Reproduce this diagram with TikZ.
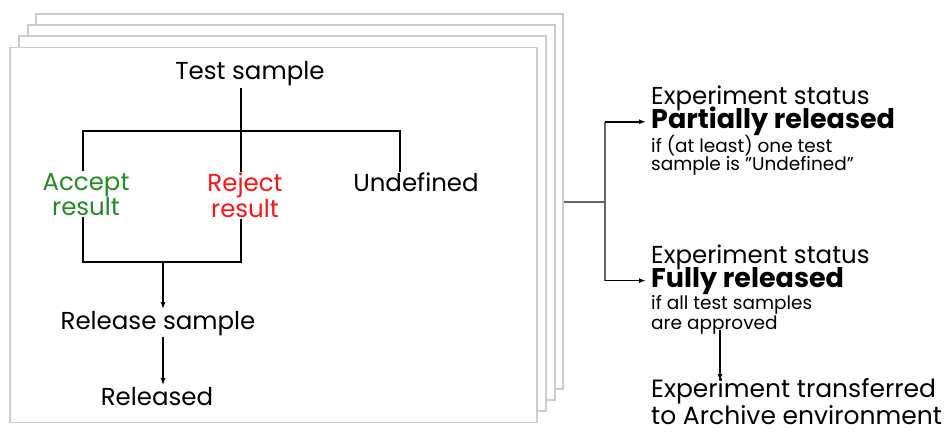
\documentclass[tikz,border=0pt]{standalone}
\usepackage{fontspec}
\setmainfont{Poppins}
\usetikzlibrary{positioning,arrows.meta}

\definecolor{okgreen}{RGB}{34,140,34}
\definecolor{nored}{RGB}{250,20,20}

\begin{document}
\begin{tikzpicture}[x=1pt,y=-1pt]
		\tikzstyle{every node}=[font=\fontsize{24.5pt}{25pt}\selectfont, inner sep=1.5pt]
		\tikzstyle{card}=[draw=black!20, line width=1.5pt, fill=white, minimum width=527pt, minimum height=375pt, inner sep=0pt]
		\tikzstyle{link}=[line width=1.5pt]
		\tikzstyle{arrow}=[link, -{Latex[length=7pt,width=5pt]}]
		\tikzstyle{info}=[anchor=base west, align=left, inner sep=0pt]
		\tikzstyle{small}=[font=\fontsize{18.5pt}{17pt}\selectfont]
		\tikzstyle{strong}=[font=\fontsize{27pt}{27pt}\selectfont\bfseries]
		
		\useasboundingbox (0,0) rectangle (951,433);
		
		% stack of sample sheets
		\node[card] (card4) at (299.5,201.5) {};
		\node[card] (card3) at (291.5,212.5) {};
		\node[card] (card2) at (282.5,223.5) {};
		\node[card] (card1) at (273.5,235) {};
		
		\node [anchor=base] (test) at (250,80) {Test sample};
		\node [anchor=base, text=okgreen, align=center] (accept) at (86,215) {Accept\\result};
		\node [anchor=base, text=nored, align=center] (reject) at (245,217) {Reject\\result};
		\node [anchor=base] (undef) at (416,192) {Undefined};
		\node [anchor=base] (release) at (158,329) {Release sample};
		\node [anchor=base] (released) at (157,405) {Released};
		
		\coordinate (bar) at (400,131);
		\coordinate (join) at (163,262);
		
		\draw [link] (test.south -| 241,0) -- (reject.north -| 241,0);
		\draw [link] (accept.north -| 83,0) -- (83,0 |- bar) -- (bar) -- (bar |- undef.north);
		\draw [link] (accept.south -| 83,0) -- (83,0 |- join) -- (241,0 |- join) -- (reject.south -| 241,0);
		\draw [arrow] (join) -- (join |- release.north);
		\draw [arrow] (release.south -| join) -- (released.north -| join);
		
		% experiment status
		\node [info] (status1) at (651,105) {Experiment status};
		\node [info, strong] (partial) at (651,129) {Partially released};
		\node [info, small] (cond1) at (651,171) {if (at least) one test\\sample is "Undefined"};
		
		\node [info] (status2) at (651,263) {Experiment status};
		\node [info, strong] (full) at (651,287) {Fully released};
		\node [info, small] (cond2) at (651,329) {if all test samples\\are approved};
		
		\node [info, font=\fontsize{25pt}{22pt}\selectfont] (archive) at (651,424) {Experiment transferred\\to Archive environment};
		
		\coordinate (fork) at (605,202);
		\draw [link, black!60] (card4.east |- fork) -- (fork);
		\draw [link, black!60] (fork |- partial.west) -- (fork |- full.west);
		\draw [arrow] (fork |- partial.west) -- ([xshift=-5pt]partial.west);
		\draw [arrow] (fork |- full.west) -- ([xshift=-5pt]full.west);
		\draw [arrow] ([yshift=4pt]cond2.south -| 720,0) -- ([yshift=-3pt]archive.north -| 720,0);
		
	\end{tikzpicture}
\end{document}
